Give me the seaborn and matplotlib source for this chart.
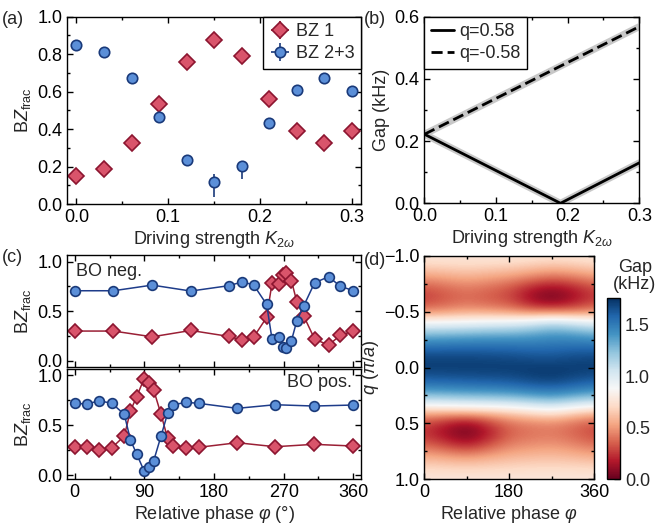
import numpy as np
import matplotlib
matplotlib.use("Agg")
import matplotlib.pyplot as plt
import seaborn as sns
from matplotlib.ticker import MultipleLocator

# ---------------- datos ----------------
# (a) fracción de población por zona de Brillouin
k_drive = [0.0, 0.03, 0.06, 0.09, 0.12, 0.15, 0.18, 0.21, 0.24, 0.27, 0.30]
bz1 = [0.150, 0.185, 0.325, 0.532, 0.760, 0.875, 0.792, 0.562, 0.390, 0.325, 0.392]
bz1_err = [0.015, 0.015, 0.015, 0.015, 0.015, 0.02, 0.02, 0.015, 0.015, 0.015, 0.015]
bz23 = [0.849, 0.811, 0.671, 0.466, 0.235, 0.119, 0.205, 0.434, 0.607, 0.671, 0.603]
bz23_err_lo = [0.015, 0.015, 0.015, 0.015, 0.02, 0.08, 0.07, 0.015, 0.015, 0.015, 0.015]
bz23_err_hi = [0.015, 0.015, 0.015, 0.015, 0.02, 0.04, 0.02, 0.015, 0.015, 0.015, 0.015]

# (b) gap vs driving
k_gap_pos = [0.0, 0.19, 0.30]
gap_pos = [0.222, 0.0, 0.130]
k_gap_neg = [0.0, 0.30]
gap_neg = [0.222, 0.568]

# (c) BO neg. (arriba) y BO pos. (abajo)
phase_neg = [0, 50, 100, 150, 199, 216, 231, 248, 255, 264, 269, 273, 280, 287, 296, 310, 328, 343, 360]
neg_bz1 = [0.30, 0.30, 0.242, 0.306, 0.246, 0.209, 0.236, 0.438, 0.788, 0.771, 0.865, 0.882,
           0.808, 0.596, 0.451, 0.219, 0.158, 0.256, 0.30]
neg_bz23 = [0.707, 0.707, 0.764, 0.704, 0.758, 0.795, 0.768, 0.569, 0.215, 0.236, 0.141, 0.131,
            0.202, 0.404, 0.556, 0.788, 0.848, 0.754, 0.707]

phase_pos = [0, 16, 31.5, 48, 64, 72, 80, 89.5, 96, 102, 111.5, 120, 127.5, 144, 160, 210, 259, 309, 360]
pos_bz1 = [0.283, 0.283, 0.25, 0.273, 0.39, 0.643, 0.783, 0.962, 0.923, 0.85, 0.607, 0.367,
           0.29, 0.267, 0.277, 0.323, 0.283, 0.307, 0.29]
pos_bz23 = [0.717, 0.71, 0.743, 0.717, 0.607, 0.35, 0.21, 0.043, 0.077, 0.143, 0.39, 0.617,
            0.703, 0.727, 0.717, 0.667, 0.703, 0.69, 0.70]

# (d) gap (kHz) en función de q (filas) y fase relativa (columnas)
q_vals = [-1.0, -0.9, -0.8, -0.7, -0.6, -0.5, -0.4, -0.3, -0.2, -0.1, 0.0,
          0.1, 0.2, 0.3, 0.4, 0.5, 0.6, 0.7, 0.8, 0.9, 1.0]
phi_vals = [0, 45, 90, 135, 180, 225, 270, 315, 360]
gap_map = [
    # 0     45    90    135   180   225   270   315   360
    [0.78, 0.78, 0.78, 0.78, 0.78, 0.77, 0.76, 0.77, 0.78],  # -1.0
    [0.68, 0.69, 0.70, 0.69, 0.68, 0.65, 0.62, 0.64, 0.68],  # -0.9
    [0.50, 0.53, 0.56, 0.53, 0.50, 0.44, 0.38, 0.42, 0.49],  # -0.8
    [0.32, 0.37, 0.42, 0.38, 0.32, 0.18, 0.10, 0.18, 0.30],  # -0.7
    [0.27, 0.33, 0.38, 0.34, 0.30, 0.12, 0.02, 0.14, 0.27],  # -0.6
    [0.45, 0.48, 0.52, 0.50, 0.47, 0.40, 0.40, 0.40, 0.45],  # -0.5
    [0.88, 0.89, 0.90, 0.93, 0.95, 1.00, 1.10, 1.02, 0.95],  # -0.4
    [1.25, 1.26, 1.28, 1.30, 1.30, 1.33, 1.38, 1.36, 1.30],  # -0.3
    [1.50, 1.51, 1.52, 1.52, 1.52, 1.51, 1.52, 1.53, 1.52],  # -0.2
    [1.68, 1.68, 1.68, 1.67, 1.66, 1.64, 1.63, 1.66, 1.67],  # -0.1
    [1.72, 1.72, 1.72, 1.72, 1.72, 1.72, 1.72, 1.72, 1.72],  # 0.0
    [1.62, 1.63, 1.64, 1.65, 1.66, 1.70, 1.72, 1.68, 1.64],  # 0.1
    [1.42, 1.43, 1.45, 1.46, 1.48, 1.52, 1.55, 1.50, 1.45],  # 0.2
    [1.08, 1.10, 1.12, 1.13, 1.15, 1.20, 1.25, 1.18, 1.12],  # 0.3
    [0.60, 0.60, 0.62, 0.64, 0.68, 0.74, 0.80, 0.70, 0.63],  # 0.4
    [0.30, 0.20, 0.10, 0.25, 0.40, 0.44, 0.46, 0.40, 0.33],  # 0.5
    [0.25, 0.13, 0.02, 0.17, 0.36, 0.40, 0.42, 0.37, 0.29],  # 0.6
    [0.38, 0.30, 0.20, 0.32, 0.45, 0.48, 0.50, 0.46, 0.40],  # 0.7
    [0.56, 0.53, 0.50, 0.54, 0.58, 0.60, 0.61, 0.59, 0.56],  # 0.8
    [0.70, 0.69, 0.68, 0.69, 0.70, 0.71, 0.71, 0.71, 0.70],  # 0.9
    [0.78, 0.78, 0.78, 0.78, 0.78, 0.78, 0.78, 0.78, 0.78],  # 1.0
]

# ---------------- estilo ----------------
sns.set_theme(style="ticks")
plt.rcParams["font.family"] = ["Liberation Sans", "DejaVu Sans"]
plt.rcParams["mathtext.fontset"] = "custom"
plt.rcParams["mathtext.rm"] = "Liberation Sans"
plt.rcParams["mathtext.it"] = "Liberation Sans:italic"
plt.rcParams["axes.linewidth"] = 1.0
plt.rcParams["axes.edgecolor"] = "black"

RED_FACE, RED_EDGE, RED_LINE = "#d9546b", "#8c1530", "#9a1f35"
BLUE_FACE, BLUE_EDGE, BLUE_LINE = "#5b8fd8", "#1a3a7a", "#1e3c8a"
FS = 13


def estilo_ejes(ax):
    ax.tick_params(which="both", direction="in", top=True, right=True,
                   labelsize=FS, colors="black", width=1.0)
    ax.tick_params(which="major", length=4)
    ax.tick_params(which="minor", length=2.5)


fig = plt.figure(figsize=(6.67, 5.25), dpi=100)

# ---------------- (a) ----------------
ax_a = fig.add_axes([0.1005, 0.6114, 0.4408, 0.3568])
ax_a.errorbar(k_drive, bz1, yerr=bz1_err, xerr=0, fmt="D", ms=8.5, mfc=RED_FACE,
              mec=RED_EDGE, mew=1.2, ecolor=RED_EDGE, elinewidth=1.2, label="BZ 1")
ax_a.errorbar(k_drive, bz23, yerr=[bz23_err_lo, bz23_err_hi], xerr=0, fmt="o", ms=7.5,
              mfc=BLUE_FACE, mec=BLUE_EDGE, mew=1.2, ecolor=BLUE_EDGE, elinewidth=1.2,
              label="BZ 2+3")
ax_a.set_xlim(-0.0103, 0.3103)
ax_a.set_ylim(0, 1)
ax_a.xaxis.set_major_locator(MultipleLocator(0.1))
ax_a.xaxis.set_minor_locator(MultipleLocator(0.05))
ax_a.yaxis.set_major_locator(MultipleLocator(0.2))
ax_a.yaxis.set_minor_locator(MultipleLocator(0.1))
estilo_ejes(ax_a)
ax_a.set_xlabel(r"Driving strength $K_{2\omega}$", fontsize=FS, labelpad=2)
ax_a.set_ylabel(r"B$Z_{\mathrm{frac}}$", fontsize=FS, labelpad=3)
leg = ax_a.legend(loc="upper right", borderaxespad=0, fancybox=False, fontsize=FS,
                  handlelength=1.2, handletextpad=0.3, borderpad=0.35, labelspacing=0.3)
leg.get_frame().set_edgecolor("black")
leg.get_frame().set_linewidth(1.0)
leg.get_frame().set_alpha(1)
fig.text(0.003, 0.955, "(a)", fontsize=FS)

# ---------------- (b) ----------------
ax_b = fig.add_axes([0.6364, 0.6128, 0.322, 0.3554])
sns.lineplot(x=k_gap_pos, y=gap_pos, ax=ax_b, color="#c8c8c8", lw=5, sort=False)
sns.lineplot(x=k_gap_neg, y=gap_neg, ax=ax_b, color="#c8c8c8", lw=5, sort=False)
sns.lineplot(x=k_gap_pos, y=gap_pos, ax=ax_b, color="black", lw=2, sort=False, label="q=0.58")
sns.lineplot(x=k_gap_neg, y=gap_neg, ax=ax_b, color="black", lw=2, sort=False,
             dashes=False, linestyle=(0, (4, 1.8)), label="q=-0.58")
ax_b.set_xlim(0, 0.3)
ax_b.set_ylim(0, 0.6)
ax_b.xaxis.set_major_locator(MultipleLocator(0.1))
ax_b.xaxis.set_minor_locator(MultipleLocator(0.05))
ax_b.yaxis.set_major_locator(MultipleLocator(0.2))
ax_b.yaxis.set_minor_locator(MultipleLocator(0.1))
estilo_ejes(ax_b)
ax_b.set_xlabel(r"Driving strength $K_{2\omega}$", fontsize=FS, labelpad=2)
ax_b.set_ylabel("Gap (kHz)", fontsize=FS, labelpad=3)
leg = ax_b.legend(loc="upper left", borderaxespad=0, fancybox=False, fontsize=FS,
                  handlelength=1.3, handletextpad=0.3, borderpad=0.35, labelspacing=0.3)
leg.get_frame().set_edgecolor("black")
leg.get_frame().set_linewidth(1.0)
leg.get_frame().set_alpha(1)
fig.text(0.545, 0.955, "(b)", fontsize=FS)

# ---------------- (c) ----------------
ax_c1 = fig.add_axes([0.1005, 0.3015, 0.4408, 0.2128])
ax_c2 = fig.add_axes([0.1005, 0.0870, 0.4408, 0.2095])
for ax, ph, r, b, ylim in [(ax_c1, phase_neg, neg_bz1, neg_bz23, (-0.06, 1.068)),
                           (ax_c2, phase_pos, pos_bz1, pos_bz23, (-0.043, 1.057))]:
    sns.lineplot(x=ph, y=r, ax=ax, color=RED_LINE, lw=1.1, marker="D", ms=7.5,
                 markerfacecolor=RED_FACE, markeredgecolor=RED_EDGE, markeredgewidth=1.2)
    sns.lineplot(x=ph, y=b, ax=ax, color=BLUE_LINE, lw=1.1, marker="o", ms=7,
                 markerfacecolor=BLUE_FACE, markeredgecolor=BLUE_EDGE, markeredgewidth=1.2)
    ax.set_xlim(-10, 370)
    ax.set_ylim(*ylim)
    ax.xaxis.set_major_locator(MultipleLocator(90))
    ax.xaxis.set_minor_locator(MultipleLocator(45))
    ax.yaxis.set_major_locator(MultipleLocator(0.5))
    ax.yaxis.set_minor_locator(MultipleLocator(0.25))
    estilo_ejes(ax)
    ax.set_ylabel(r"B$Z_{\mathrm{frac}}$", fontsize=FS, labelpad=3)
ax_c1.tick_params(labelbottom=False)
ax_c2.set_xlabel(r"Relative phase $\varphi$ (°)", fontsize=FS, labelpad=2)
ax_c1.text(0.03, 0.93, "BO neg.", transform=ax_c1.transAxes, fontsize=FS, va="top")
ax_c2.text(0.97, 0.96, "BO pos.", transform=ax_c2.transAxes, fontsize=FS, va="top", ha="right")
fig.text(0.003, 0.5, "(c)", fontsize=FS)

# ---------------- (d) ----------------
ax_d = fig.add_axes([0.6357, 0.0876, 0.2549, 0.4248])
im = ax_d.imshow(np.array(gap_map), cmap="RdBu", vmin=0, vmax=1.76, aspect="auto",
                 interpolation="bicubic", origin="upper",
                 extent=[phi_vals[0] - 22.5, phi_vals[-1] + 22.5, q_vals[-1] + 0.05, q_vals[0] - 0.05])
ax_d.set_xlim(0, 360)
ax_d.set_ylim(1, -1)
ax_d.xaxis.set_major_locator(MultipleLocator(180))
ax_d.xaxis.set_minor_locator(MultipleLocator(90))
ax_d.yaxis.set_major_locator(MultipleLocator(0.5))
ax_d.yaxis.set_minor_locator(MultipleLocator(0.25))
estilo_ejes(ax_d)
ax_d.set_xlabel(r"Relative phase $\varphi$", fontsize=FS, labelpad=2)
ax_d.set_ylabel(r"$q$ ($\pi/a$)", fontsize=FS, labelpad=2)
fig.text(0.545, 0.495, "(d)", fontsize=FS)

cax = fig.add_axes([0.9096, 0.0870, 0.020, 0.3459])
cb = fig.colorbar(im, cax=cax)
cb.outline.set_linewidth(1.0)
cb.set_ticks([0, 0.5, 1.0, 1.5])
cax.yaxis.set_minor_locator(MultipleLocator(0.25))
cax.tick_params(which="both", direction="in", labelsize=FS, width=1.0)
cax.tick_params(which="major", length=4)
cax.tick_params(which="minor", length=2.5)
fig.text(0.952, 0.442, "Gap\n(kHz)", fontsize=FS, ha="center", va="bottom", linespacing=1.0)

fig.savefig("out.png", dpi=100)
